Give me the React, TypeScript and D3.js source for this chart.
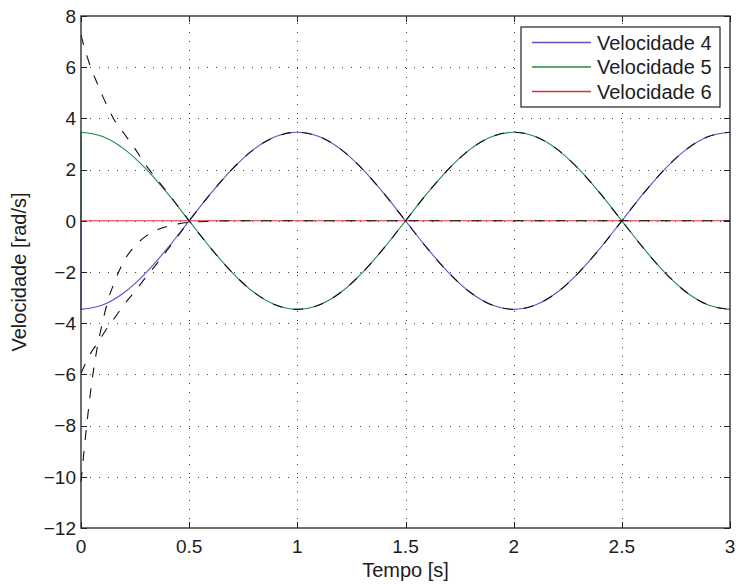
import React from "react";
import * as d3 from "d3";

// ---- data ----
const tSamples = [0, 0.1, 0.2, 0.3, 0.4, 0.5, 0.6, 0.7, 0.8, 0.9, 1.0, 1.1, 1.2, 1.3, 1.4, 1.5, 1.6, 1.7, 1.8, 1.9, 2.0, 2.1, 2.2, 2.3, 2.4, 2.5, 2.6, 2.7, 2.8, 2.9, 3.0];
const velocidade4 = [-3.46, -3.29, -2.8, -2.03, -1.07, 0, 1.07, 2.03, 2.8, 3.29, 3.46, 3.29, 2.8, 2.03, 1.07, 0, -1.07, -2.03, -2.8, -3.29, -3.46, -3.29, -2.8, -2.03, -1.07, 0, 1.07, 2.03, 2.8, 3.29, 3.46];
const velocidade5 = [3.46, 3.29, 2.8, 2.03, 1.07, 0, -1.07, -2.03, -2.8, -3.29, -3.46, -3.29, -2.8, -2.03, -1.07, 0, 1.07, 2.03, 2.8, 3.29, 3.46, 3.29, 2.8, 2.03, 1.07, 0, -1.07, -2.03, -2.8, -3.29, -3.46];
const velocidade6 = [0, 0, 0, 0, 0, 0, 0, 0, 0, 0, 0, 0, 0, 0, 0, 0, 0, 0, 0, 0, 0, 0, 0, 0, 0, 0, 0, 0, 0, 0, 0];
const startValue = 0; // all three coloured series start at 0 before jumping

const tDashed = [0, 0.025, 0.05, 0.075, 0.1, 0.125, 0.15, 0.2, 0.25, 0.3, 0.35, 0.4, 0.45, 0.5, 0.6, 0.7, 0.8, 0.9, 1.0, 1.1, 1.2, 1.3, 1.4, 1.5, 1.6, 1.7, 1.8, 1.9, 2.0, 2.1, 2.2, 2.3, 2.4, 2.5, 2.6, 2.7, 2.8, 2.9, 3.0];
const dashedA = [7.25, 6.5, 5.88, 5.37, 4.87, 4.42, 4.0, 3.4, 2.81, 2.17, 1.63, 1.1, 0.55, 0, -1.07, -2.03, -2.8, -3.29, -3.46, -3.29, -2.8, -2.03, -1.07, 0, 1.07, 2.03, 2.8, 3.29, 3.46, 3.29, 2.8, 2.03, 1.07, 0, -1.07, -2.03, -2.8, -3.29, -3.46];
const dashedB = [-5.95, -5.5, -5.1, -4.8, -4.46, -4.14, -3.86, -3.26, -2.75, -2.2, -1.68, -1.13, -0.57, 0, 1.07, 2.03, 2.8, 3.29, 3.46, 3.29, 2.8, 2.03, 1.07, 0, -1.07, -2.03, -2.8, -3.29, -3.46, -3.29, -2.8, -2.03, -1.07, 0, 1.07, 2.03, 2.8, 3.29, 3.46];
const dashedC = [-10.2, -8.1, -6.3, -4.95, -3.95, -3.1, -2.5, -1.55, -0.98, -0.6, -0.36, -0.22, -0.12, -0.06, -0.02, 0, 0, 0, 0, 0, 0, 0, 0, 0, 0, 0, 0, 0, 0, 0, 0, 0, 0, 0, 0, 0, 0, 0, 0];

const xTicks = [0, 0.5, 1, 1.5, 2, 2.5, 3];
const xTickLabels = ["0", "0.5", "1", "1.5", "2", "2.5", "3"];
const yTicks = [-12, -10, -8, -6, -4, -2, 0, 2, 4, 6, 8];
const yTickLabels = ["\u221212", "\u221210", "\u22128", "\u22126", "\u22124", "\u22122", "0", "2", "4", "6", "8"];
const seriesNames = ["Velocidade 4", "Velocidade 5", "Velocidade 6"];
const seriesColors = ["#5f50c8", "#218a46", "#dc3040"];
const xLabel = "Tempo [s]";
const yLabel = "Velocidade [rad/s]";

const W = 736;
const H = 584;
const L = 81, R = 730, T = 16, B = 528;
const FONT = "'Liberation Sans', Arial, Helvetica, sans-serif";
const TXT = "#1c1c1c";

export default function App() {
  const x = d3.scaleLinear().domain([0, 3]).range([L, R]);
  const y = d3.scaleLinear().domain([-12, 8]).range([B, T]);

  const lineGen = d3
    .line<[number, number]>()
    .x((d) => x(d[0]))
    .y((d) => y(d[1]))
    .curve(d3.curveMonotoneX);

  const colored = [velocidade4, velocidade5, velocidade6].map((vals) => {
    const pts = tSamples.map((t, i) => [t, vals[i]] as [number, number]);
    const p = lineGen(pts) || "";
    return `M${x(0)},${y(startValue)}L` + p.slice(1);
  });

  const dashed = [dashedA, dashedB, dashedC].map((vals) =>
    lineGen(tDashed.map((t, i) => [t, vals[i]] as [number, number])) || ""
  );

  const tickLen = 6;
  const lx0 = 521, ly0 = 27, lw = 199, lh = 80;
  const rowY = [42.5, 67, 91.5];

  return (
    <svg
      width={W}
      height={H}
      style={{ position: "absolute", left: 0, top: 0, background: "#fff" }}
      fontFamily={FONT}
    >
      <rect x={0} y={0} width={W} height={H} fill="#fff" />
      {/* grid */}
      <g stroke="#000" strokeWidth={1} strokeDasharray="1,8" shapeRendering="crispEdges" opacity={0.75}>
        {xTicks.slice(1, -1).map((t) => (
          <line key={"gx" + t} x1={Math.round(x(t)) + 0.5} x2={Math.round(x(t)) + 0.5} y1={B} y2={T} />
        ))}
        {yTicks.slice(1, -1).map((v) => (
          <line key={"gy" + v} x1={L} x2={R} y1={Math.round(y(v)) + 0.5} y2={Math.round(y(v)) + 0.5} />
        ))}
      </g>
      {/* ticks */}
      <g stroke="#222" strokeWidth={1} shapeRendering="crispEdges">
        {xTicks.map((t) => (
          <g key={"tx" + t}>
            <line x1={Math.round(x(t)) + 0.5} x2={Math.round(x(t)) + 0.5} y1={B} y2={B - tickLen} />
            <line x1={Math.round(x(t)) + 0.5} x2={Math.round(x(t)) + 0.5} y1={T} y2={T + tickLen} />
          </g>
        ))}
        {yTicks.map((v) => (
          <g key={"ty" + v}>
            <line x1={L} x2={L + tickLen} y1={Math.round(y(v)) + 0.5} y2={Math.round(y(v)) + 0.5} />
            <line x1={R} x2={R - tickLen} y1={Math.round(y(v)) + 0.5} y2={Math.round(y(v)) + 0.5} />
          </g>
        ))}
      </g>
      {/* coloured series */}
      {colored.map((d, i) => (
        <path key={"c" + i} d={d} fill="none" stroke={seriesColors[i]} strokeWidth={1.1} />
      ))}
      {/* dashed black series */}
      {dashed.map((d, i) => (
        <path key={"d" + i} d={d} fill="none" stroke="#111" strokeWidth={1.1} strokeDasharray="10,11" />
      ))}
      {/* axes box */}
      <rect x={L} y={T} width={R - L} height={B - T} fill="none" stroke="#222" strokeWidth={1.3} />
      {/* tick labels */}
      <g fontSize={19} fill={TXT}>
        {xTicks.map((t, i) => (
          <text key={"lx" + t} x={x(t)} y={553} textAnchor="middle">
            {xTickLabels[i]}
          </text>
        ))}
        {yTicks.map((v, i) => (
          <text key={"ly" + v} x={76} y={y(v)} dy="0.36em" textAnchor="end">
            {yTickLabels[i]}
          </text>
        ))}
      </g>
      {/* axis labels */}
      <text x={(L + R) / 2} y={577} textAnchor="middle" fontSize={20} fill={TXT}>
        {xLabel}
      </text>
      <text
        transform={`translate(26,${(T + B) / 2}) rotate(-90)`}
        textAnchor="middle"
        fontSize={20}
        fill={TXT}
      >
        {yLabel}
      </text>
      {/* legend */}
      <rect x={lx0} y={ly0} width={lw} height={lh} fill="#fff" stroke="#222" strokeWidth={1.2} />
      {seriesNames.map((n, i) => (
        <g key={"lg" + i}>
          <line x1={532} x2={591} y1={rowY[i]} y2={rowY[i]} stroke={seriesColors[i]} strokeWidth={1.3} />
          <text x={597} y={rowY[i]} dy="0.36em" fontSize={20} fill={TXT}>
            {n}
          </text>
        </g>
      ))}
    </svg>
  );
}
